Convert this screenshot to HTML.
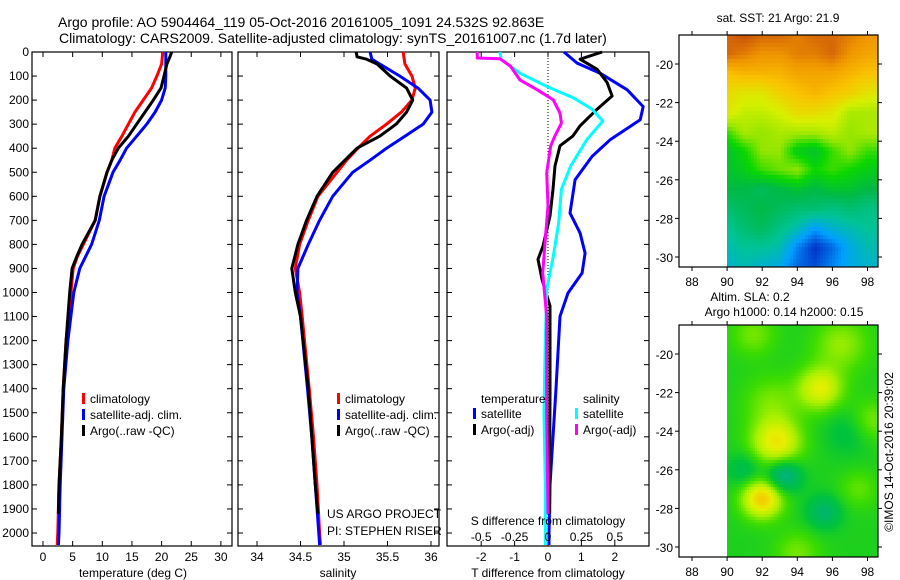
<!DOCTYPE html>
<html><head><meta charset="utf-8">
<style>
html,body{margin:0;padding:0;background:#fff;}
#wrap{position:relative;width:900px;height:580px;overflow:hidden;font-family:"Liberation Sans",sans-serif;}
svg text{font-family:"Liberation Sans",sans-serif;font-size:12px;fill:#000;}
canvas{position:absolute;image-rendering:pixelated;}
</style></head>
<body>
<div id="wrap">
<canvas id="sstMap" width="151" height="232" style="left:727px;top:35px;width:151px;height:232px;"></canvas>
<canvas id="slaMap" width="151" height="232" style="left:727px;top:325px;width:151px;height:232px;"></canvas>
<svg id="fig" width="900" height="580" style="position:absolute;left:0;top:0">
<text x="58" y="27" style="font-size:14px">Argo profile: AO 5904464_119 05-Oct-2016 20161005_1091 24.532S 92.863E</text>
<text x="59" y="43" style="font-size:14px">Climatology: CARS2009. Satellite-adjusted climatology: synTS_20161007.nc (1.7d later)</text>
<text x="778" y="22" text-anchor="middle">sat. SST: 21 Argo: 21.9</text>
<text x="750" y="301" text-anchor="middle">Altim. SLA: 0.2</text>
<text x="784" y="316" text-anchor="middle">Argo h1000: 0.14 h2000: 0.15</text>
<text transform="translate(893,452) rotate(-90)" text-anchor="middle">©IMOS 14-Oct-2016 20:39:02</text>
<g id="plots"></g>
</svg>
</div>
<script>
// ---------- data ----------
const depthTicks=[0,100,200,300,400,500,600,700,800,900,1000,1100,1200,1300,1400,1500,1600,1700,1800,1900,2000];
const tTicks=[0,5,10,15,20,25,30];
const sTicks=[34,34.5,35,35.5,36];
const dTTicks=[-2,-1,0,1,2];
const dSTicks=[-0.5,-0.25,0,0.25,0.5];

const tClimDepth=[0,50,100,150,200,250,300,350,400,450,500,600,700,800,850,900,1000,1200,1400,1600,1800,2000,2050];
const tClim=[20.2,20.0,19.2,18.3,16.9,15.5,14.4,13.3,12.1,11.6,10.8,9.6,8.8,6.8,5.8,5.1,4.7,3.9,3.4,3.1,2.7,2.5,2.4];
const tSatDepth=[0,100,150,200,250,300,350,400,450,500,600,700,800,900,1000,1200,1400,1600,1800,2000,2050];
const tSat=[20.7,20.7,20.6,20.0,18.9,17.5,15.8,14.1,13.0,11.8,10.3,9.5,8.2,6.2,5.2,4.2,3.5,3.2,2.9,2.7,2.6];
const tArgoDepth=[0,20,50,100,150,200,250,300,350,400,450,500,600,700,800,850,900,1000,1200,1400,1600,1800,1920];
const tArgo=[21.7,21.4,20.9,20.4,19.9,18.6,17.2,15.8,14.4,12.7,11.6,10.8,9.6,8.8,6.6,5.7,4.9,4.5,3.9,3.4,3.1,2.7,2.6];

const sClimDepth=[0,50,100,150,200,250,300,350,400,450,500,600,700,800,900,1000,1100,1400,1600,1800,2000,2050];
const sClim=[35.68,35.70,35.78,35.82,35.78,35.66,35.49,35.30,35.16,35.03,34.92,34.70,34.59,34.49,34.44,34.49,34.52,34.60,34.65,34.69,34.72,34.73];
const sSatDepth=[0,30,50,100,150,200,250,300,350,400,450,500,600,700,800,900,1000,1100,1400,1600,1800,2000,2050];
const sSat=[35.30,35.32,35.41,35.64,35.85,35.99,36.01,35.91,35.70,35.49,35.30,35.10,34.87,34.72,34.59,34.47,34.46,34.50,34.58,34.63,34.67,34.71,34.72];
const sArgoDepth=[0,20,30,50,100,150,200,250,300,350,400,500,600,700,800,900,1000,1100,1400,1600,1800,1920];
const sArgo=[35.14,35.15,35.26,35.38,35.53,35.72,35.79,35.72,35.60,35.41,35.15,34.87,34.69,34.57,34.47,34.40,34.44,34.50,34.59,34.63,34.67,34.70];

const dTSatDepth=[0,46,88,157,227,282,365,434,531,670,753,836,919,1002,1099,1400,1600,1800,2000,2050];
const dTSat=[0.48,0.87,1.56,2.37,2.85,2.76,1.86,1.32,0.81,0.66,0.96,1.11,1.02,0.60,0.36,0.24,0.15,0.06,0.03,0.03];
const dTArgoDepth=[0,30,72,127,183,238,307,349,390,474,571,682,807,862,945,1056,1400,1700,1920];
const dTArgo=[1.62,0.96,1.47,1.77,1.92,1.47,0.96,0.75,0.36,0.21,0.15,0.06,-0.15,-0.30,-0.18,0.06,0.06,0.05,0.05];
const dSSatDepth=[0,30,88,143,191,238,287,365,474,571,710,849,988,1200,1500,1800,2050];
const dSSat=[-0.36,-0.35,-0.21,-0.01,0.19,0.33,0.41,0.29,0.17,0.10,0.08,0.04,-0.01,-0.02,-0.03,-0.02,-0.02];
const dSArgoDepth=[0,25,28,60,116,157,199,254,296,351,390,502,640,779,919,1100,1500,1920];
const dSArgo=[-0.53,-0.53,-0.36,-0.28,-0.21,-0.08,0.04,0.09,0.10,0.05,0.02,-0.01,0.00,-0.02,-0.04,-0.01,-0.01,0.00];

// map data (coarse grids)
const sstLats=[-18.5,-19.5,-20.5,-21.5,-22.5,-23.5,-24.5,-25.5,-26.5,-27.5,-28.5,-29.5,-30.5];
const sstLons=[90,91,92,93,94,95,96,97,98];
const sstGrid=[
[22.0,22.1,22.0,22.0,21.9,22.0,22.0,21.9,21.8],
[22.0,21.9,21.8,21.8,21.9,21.9,22.0,21.8,21.7],
[21.5,21.6,21.6,21.6,21.7,21.7,21.7,21.6,21.5],
[21.3,21.2,21.2,21.4,21.5,21.6,21.5,21.4,21.2],
[21.2,21.0,21.0,21.1,21.3,21.3,21.2,20.9,20.9],
[20.6,20.9,20.8,20.9,20.9,20.9,21.0,20.8,20.9],
[20.3,20.5,20.8,20.8,20.4,20.3,20.6,20.8,20.6],
[20.3,20.4,20.6,20.7,20.8,20.5,20.6,20.5,20.4],
[20.2,20.2,20.1,20.2,20.3,20.2,20.3,20.3,20.2],
[20.0,20.1,20.2,20.1,20.0,20.0,19.9,20.0,19.9],
[19.8,20.0,20.1,19.9,19.7,19.4,19.6,19.7,19.8],
[19.7,19.8,19.8,19.7,19.3,19.0,19.2,19.5,19.7],
[19.6,19.7,19.6,19.5,19.2,19.1,19.3,19.5,19.6]];
const slaBase=0.05;
const slaBlobLon=[95.3,92.8,92.0,93.2,95.5,92.5,96.5,91.5,98.2,91.0,94.0,97.5,97.0];
const slaBlobLat=[-21.8,-24.6,-27.5,-26.3,-28.2,-22.5,-19.5,-19.0,-23.5,-26.0,-30.3,-27.0,-24.0];
const slaBlobAmp=[0.24,0.27,0.34,-0.22,-0.14,0.10,0.13,0.10,0.12,-0.10,0.10,0.08,-0.08];
const slaBlobR=[0.9,1.0,0.8,0.7,0.7,1.1,1.1,0.9,0.9,0.7,0.9,0.8,1.0];

// ---------- helpers ----------
const NS='http://www.w3.org/2000/svg';
const G=document.getElementById('plots');
function mk(tag,attrs,parent){const e=document.createElementNS(NS,tag);for(const k in attrs)e.setAttribute(k,attrs[k]);(parent||G).appendChild(e);return e;}
const Y0=52,PXD=0.2405;
function yD(d){return Y0+d*PXD;}
function xT(v){return 43+v*5.93;}
function xS(v){return 257+(v-34)*87;}
function xDT(v){return 548+v*33.4;}
function xDS(v){return 548+v*133.6;}

function frame(x0,x1,name){
  const r=mk('rect',{x:x0,y:52,width:x1-x0,height:494,fill:'none',stroke:'#000','stroke-width':1.2});
  
  
  depthTicks.forEach(d=>{
    mk('line',{x1:x0,x2:x0+5,y1:yD(d),y2:yD(d),stroke:'#000'});
    mk('line',{x1:x1,x2:x1-5,y1:yD(d),y2:yD(d),stroke:'#000'});
  });
}
function xticks(vals,fx,labels,name){
  vals.forEach((v,i)=>{
    const x=fx(v);
    mk('line',{x1:x,x2:x,y1:52,y2:57,stroke:'#000'});
    mk('line',{x1:x,x2:x,y1:546,y2:541,stroke:'#000'});
    const t=mk('text',{x:x,y:561,'text-anchor':'middle'});t.textContent=labels[i];
    
    
  });
}
function line(depths,vals,fx,color,name,w){
  const pts=depths.map((d,i)=>fx(vals[i]).toFixed(1)+','+yD(d).toFixed(1)).join(' ');
  const p=mk('polyline',{points:pts,fill:'none',stroke:color,'stroke-width':w||3,'stroke-linejoin':'round'});
  
  
}
function txt(x,y,s,name,anchor){
  const t=mk('text',{x:x,y:y,'text-anchor':anchor||'start'});t.textContent=s;
  
  
}
function legend(x,y,color,s,name){
  const r=mk('rect',{x:x,y:y-10,width:3,height:11,fill:color});
  
  
  txt(x+8,y,s,name);
}

// ---------- panel 1 temperature ----------
frame(32,232,'temperature-panel');
depthTicks.forEach(d=>txt(29,yD(d)+4,String(d),'depth-tick-label','end'));
xticks(tTicks,xT,tTicks.map(String),'temperature-tick-label');
txt(133,577,'temperature (deg C)','temperature-axis-title','middle');
line(tClimDepth,tClim,xT,'#ff0000','temperature-climatology-line');
line(tSatDepth,tSat,xT,'#0000ff','temperature-satellite-line');
line(tArgoDepth,tArgo,xT,'#000000','temperature-argo-line');
legend(82,403,'#ff0000','climatology','temperature-legend-climatology');
legend(82,419,'#0000ff','satellite-adj. clim.','temperature-legend-satellite');
legend(82,435,'#000000','Argo(..raw -QC)','temperature-legend-argo');

// ---------- panel 2 salinity ----------
frame(238,439,'salinity-panel');
xticks(sTicks,xS,['34','34.5','35','35.5','36'],'salinity-tick-label');
txt(338,577,'salinity','salinity-axis-title','middle');
line(sClimDepth,sClim,xS,'#ff0000','salinity-climatology-line');
line(sSatDepth,sSat,xS,'#0000ff','salinity-satellite-line');
line(sArgoDepth,sArgo,xS,'#000000','salinity-argo-line');
legend(337,403,'#ff0000','climatology','salinity-legend-climatology');
legend(337,419,'#0000ff','satellite-adj. clim.','salinity-legend-satellite');
legend(337,435,'#000000','Argo(..raw -QC)','salinity-legend-argo');
txt(327,518,'US ARGO PROJECT','project-credit');
txt(327,535,'PI: STEPHEN RISER','pi-credit');

// ---------- panel 3 differences ----------
frame(447,649,'difference-panel');
mk('line',{x1:548,x2:548,y1:52,y2:546,stroke:'#000','stroke-dasharray':'1,2'});
xticks(dTTicks,xDT,dTTicks.map(String),'t-difference-tick-label');
txt(548,577,'T difference from climatology','t-difference-axis-title','middle');
line(dTSatDepth,dTSat,xDT,'#0000ff','t-diff-satellite-line');
line(dTArgoDepth,dTArgo,xDT,'#000000','t-diff-argo-line');
line(dSSatDepth,dSSat,xDS,'#00ffff','s-diff-satellite-line');
line(dSArgoDepth,dSArgo,xDS,'#ff00ff','s-diff-argo-line');
txt(481,403,'temperature','diff-legend-temperature-header');
txt(583,403,'salinity','diff-legend-salinity-header');
legend(473,418,'#0000ff','satellite','diff-legend-t-satellite');
legend(473,434,'#000000','Argo(-adj)','diff-legend-t-argo');
legend(575,418,'#00ffff','satellite','diff-legend-s-satellite');
legend(575,434,'#ff00ff','Argo(-adj)','diff-legend-s-argo');
txt(548,525,'S difference from climatology','s-difference-axis-title','middle');
dSTicks.forEach((v,i)=>txt(xDS(v),541,['-0.5','-0.25','0','0.25','0.5'][i],'s-difference-tick-label','middle'));

// ---------- maps ----------
const lonTicks=[88,90,92,94,96,98];
const latTicks=[-20,-22,-24,-26,-28,-30];
function mapAxes(top,name){
  const r=mk('rect',{x:679,y:top,width:199,height:232,fill:'none',stroke:'#000','stroke-width':1.2});
  
  
  const lonX=v=>692+(v-88)*17.55, latY=v=>top+29+(-20-v)*19.3;
  lonTicks.forEach(v=>{
    mk('line',{x1:lonX(v),x2:lonX(v),y1:top,y2:top-4,stroke:'#000'});
    mk('line',{x1:lonX(v),x2:lonX(v),y1:top+232,y2:top+236,stroke:'#000'});
    txt(lonX(v),top+251,String(v),'map-lon-tick-label','middle');
  });
  latTicks.forEach(v=>{
    mk('line',{x1:679,x2:675,y1:latY(v),y2:latY(v),stroke:'#000'});
    mk('line',{x1:878,x2:882,y1:latY(v),y2:latY(v),stroke:'#000'});
    txt(673,latY(v)+5,String(v),'map-lat-tick-label','end');
  });
}
mapAxes(35,'sst-map-frame');
mapAxes(325,'sla-map-frame');

function cmap(v,stops){
  if(v<=stops[0][0])return stops[0].slice(1);
  for(let i=1;i<stops.length;i++){if(v<=stops[i][0]){const a=stops[i-1],b=stops[i],f=(v-a[0])/(b[0]-a[0]);return [0,1,2].map(k=>a[k+1]+(b[k+1]-a[k+1])*f);}}
  return stops[stops.length-1].slice(1);
}
const sstStops=[[19.0,0,50,200],[19.4,0,160,255],[19.8,0,195,150],[20.2,0,185,70],[20.5,10,215,0],[20.8,150,230,0],[21.1,215,240,0],[21.5,250,195,0],[21.8,240,150,0],[22.1,200,80,10]];
const slaStops=[[-0.25,0,215,200],[-0.1,0,180,110],[0.0,0,195,60],[0.1,60,220,0],[0.2,170,240,0],[0.3,230,240,0],[0.42,250,190,0]];
function sstAt(lon,lat){
  let r=(-18.5-lat),c=(lon-90);
  r=Math.max(0,Math.min(12,r));c=Math.max(0,Math.min(8,c));
  const r0=Math.min(11,Math.floor(r)),c0=Math.min(7,Math.floor(c)),fr=r-r0,fc=c-c0;
  const g=sstGrid;
  return g[r0][c0]*(1-fr)*(1-fc)+g[r0][c0+1]*(1-fr)*fc+g[r0+1][c0]*fr*(1-fc)+g[r0+1][c0+1]*fr*fc;
}
function slaAt(lon,lat){
  let s=slaBase;
  for(let i=0;i<slaBlobLon.length;i++){const dx=lon-slaBlobLon[i],dy=(lat-slaBlobLat[i])*1.15;s+=slaBlobAmp[i]*Math.exp(-(dx*dx+dy*dy)/(2*slaBlobR[i]*slaBlobR[i]));}
  return s;
}
function drawMap(id,fn,stops,bw,bh){
  const cv=document.getElementById(id),ctx=cv.getContext('2d');
  for(let py=0;py<232;py+=bh)for(let px=0;px<151;px+=bw){
    const lon=90+(px+bw/2)/17.55, lat=-18.5-(py+bh/2)/19.3;
    const c=cmap(fn(lon,lat),stops);
    ctx.fillStyle='rgb('+c.map(Math.round).join(',')+')';
    ctx.fillRect(px,py,bw,bh);
  }
}
drawMap('sstMap',sstAt,sstStops,3,4);
drawMap('slaMap',slaAt,slaStops,2,3);
</script>
</body></html>
